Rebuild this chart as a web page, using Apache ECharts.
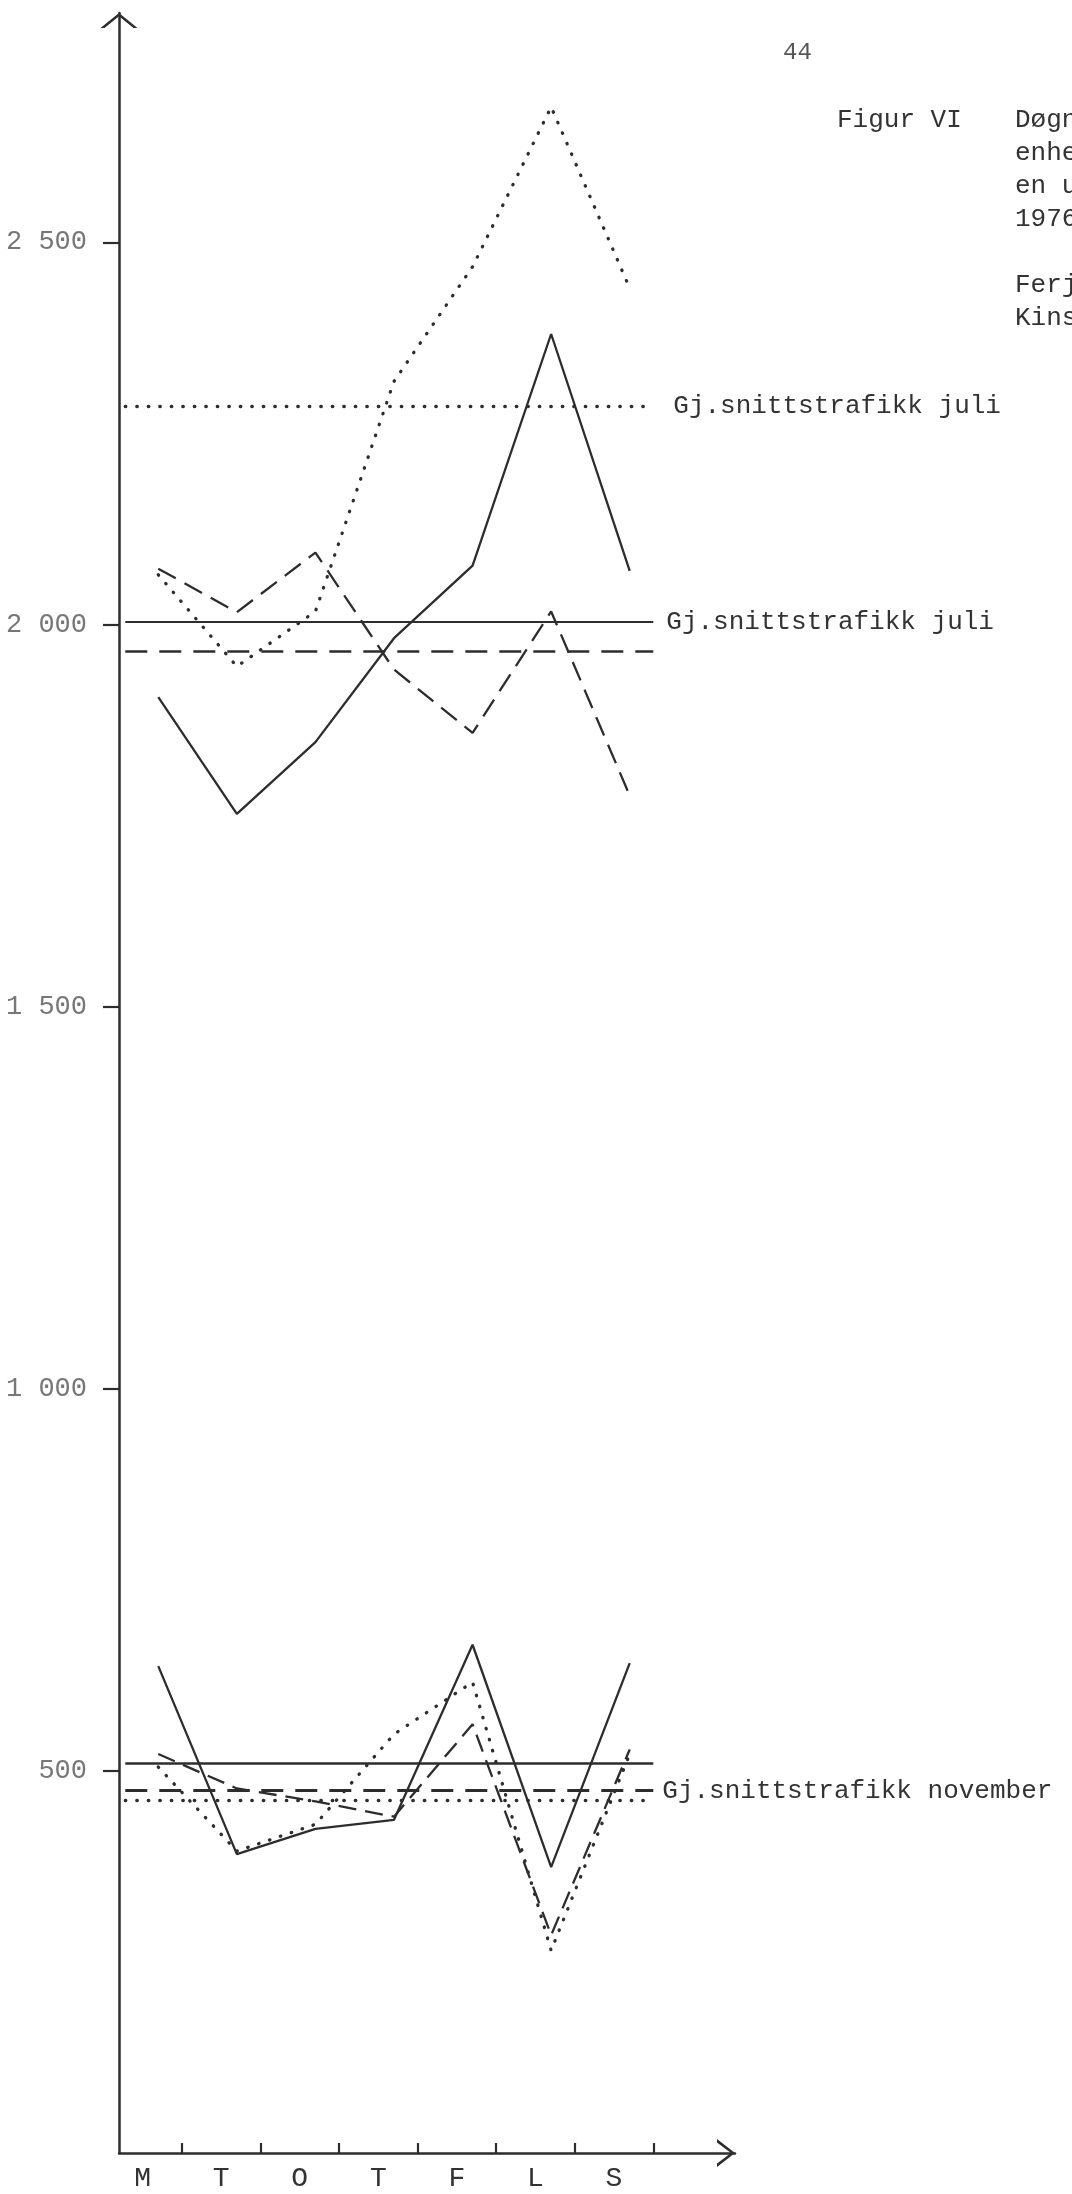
<!DOCTYPE html>
<html>
<head>
<meta charset="utf-8">
<script src="https://cdn.jsdelivr.net/npm/echarts@6/dist/echarts.min.js"></script>
<style>
  html, body { margin: 0; padding: 0; background: #ffffff; }
  #chart { width: 1072px; height: 2194px; }
</style>
</head>
<body>
<div id="chart"></div>
<script>
// ---- data ----
const days = ['M', 'T', 'O', 'T', 'F', 'L', 'S'];

const juliSolid  = [1905, 1752, 1846, 1982, 2077, 2380, 2070];
const juliDashed = [2073, 2016, 2094, 1941, 1858, 2017, 1776];
const juliDotted = [2065, 1945, 2017, 2318, 2468, 2677, 2440];

const novSolid  = [637, 391, 424, 436, 665, 374, 641];
const novDashed = [522, 477, 460, 440, 561, 285, 528];
const novDotted = [505, 395, 430, 548, 616, 265, 522];

const juliAvgSolid  = 2003;
const juliAvgDashed = 1965;
const juliAvgDotted = 2285;
const novAvgSolid  = 510;
const novAvgDashed = 474;
const novAvgDotted = 461;

const yTickValues = [500, 1000, 1500, 2000, 2500];
const yTickLabels = ['500', '1 000', '1 500', '2 000', '2 500'];

const avgLabelJuli = 'Gj.snittstrafikk juli';
const avgLabelNov  = 'Gj.snittstrafikk november';

const pageNumber = '44';
const figureLabel = 'Figur VI';
const captionLines = [
  'Døgntrafikk i bil-',
  'enheter for hver dag i',
  'en uke i juli og november',
  '1976.',
  '',
  'Ferjestrekningen',
  'Kinsarvik - Kvanndal'
];

// ---- styling ----
const INK = '#2d2d2d';
const MONO = '"Liberation Mono", "DejaVu Sans Mono", monospace';
const AVG_START = -0.42;
const AVG_END = 6.3;

const solidStyle  = { color: INK, width: 2.3, type: 'solid' };
const dashedStyle = { color: INK, width: 2.3, type: [20, 10] };
const dottedStyle = { color: INK, width: 3.3, type: [0.5, 11], cap: 'round' };

function avgLabel(text, dist) {
  if (!text) return { show: false };
  return {
    show: true, position: 'end', formatter: text, distance: dist,
    fontFamily: MONO, fontSize: 26, color: '#333', padding: [13, 0, 0, 0]
  };
}

function makeSeries(name, values, style, avg, avgStyle, labelText, labelDist) {
  return {
    name: name,
    type: 'line',
    data: values.map((v, i) => [i, v]),
    symbol: 'none',
    lineStyle: style,
    silent: true,
    markLine: {
      symbol: ['none', 'none'],
      silent: true,
      animation: false,
      lineStyle: avgStyle,
      label: avgLabel(labelText, labelDist),
      data: [[{ coord: [AVG_START, avg] }, { coord: [AVG_END, avg] }]]
    }
  };
}

const chevronX = 'path://M0,18 L14,0 L28,18 L24.5,18 L14,4 L3.5,18 Z';
const chevronY = 'path://M0,15 L18.5,0 L37,15 L33,15 L18.5,3.3 L4,15 Z';

const graphics = [
  { type: 'text', x: 783, y: 53, style: { text: pageNumber, font: '24px ' + MONO, fill: '#555', verticalAlign: 'middle' } },
  { type: 'text', x: 837, y: 120, style: { text: figureLabel, font: '26px ' + MONO, fill: '#333', verticalAlign: 'middle' } }
];
captionLines.forEach((t, i) => {
  graphics.push({ type: 'text', x: 1015, y: 120 + 33 * i, style: { text: t, font: '26px ' + MONO, fill: '#333', verticalAlign: 'middle' } });
});

const chart = echarts.init(document.getElementById('chart'), null, { renderer: 'canvas' });
chart.setOption({
  backgroundColor: '#ffffff',
  animation: false,
  grid: { left: 119, right: 337, top: 13, bottom: 41, containLabel: false },
  xAxis: {
    type: 'value',
    min: -0.5,
    max: 7.34,
    splitLine: { show: false },
    axisLine: {
      show: true,
      onZero: false,
      lineStyle: { color: INK, width: 2.5 },
      symbol: ['none', chevronX],
      symbolSize: [28, 18],
      symbolOffset: [0, -9]
    },
    axisTick: {
      show: true, inside: true, length: 10,
      lineStyle: { color: INK, width: 2.2 },
      customValues: days.map((d, i) => i + 0.3)
    },
    axisLabel: {
      show: true,
      customValues: days.map((d, i) => i - 0.2),
      formatter: (v) => days[Math.round(v + 0.2)],
      fontFamily: MONO, fontSize: 28, color: '#333', margin: 12
    }
  },
  yAxis: {
    type: 'value',
    min: 0,
    max: 2800,
    splitLine: { show: false },
    axisLine: {
      show: true,
      onZero: false,
      lineStyle: { color: INK, width: 2.5 },
      symbol: ['none', chevronY],
      symbolSize: [37, 15],
      symbolOffset: [0, -7.5]
    },
    axisTick: {
      show: true, inside: false, length: 16,
      lineStyle: { color: INK, width: 2.2 },
      customValues: yTickValues
    },
    axisLabel: {
      show: true,
      customValues: yTickValues,
      formatter: (v) => yTickLabels[yTickValues.indexOf(v)],
      fontFamily: MONO, fontSize: 27, color: '#777', margin: 32
    }
  },
  series: [
    makeSeries('juli solid', juliSolid, solidStyle, juliAvgSolid,
      { color: INK, width: 2.2, type: 'solid' }, avgLabelJuli, 13),
    makeSeries('juli dashed', juliDashed, dashedStyle, juliAvgDashed,
      { color: INK, width: 2.5, type: [22, 12] }, null),
    makeSeries('juli dotted', juliDotted, dottedStyle, juliAvgDotted,
      { color: INK, width: 3.3, type: [0.5, 11], cap: 'round' }, avgLabelJuli, 20),
    makeSeries('nov solid', novSolid, solidStyle, novAvgSolid,
      { color: INK, width: 2.5, type: 'solid' }, null),
    makeSeries('nov dashed', novDashed, { color: INK, width: 2.3, type: [18, 9] }, novAvgDashed,
      { color: INK, width: 2.8, type: [22, 12] }, avgLabelNov, 9),
    makeSeries('nov dotted', novDotted, dottedStyle, novAvgDotted,
      { color: INK, width: 3.3, type: [0.5, 11], cap: 'round' }, null)
  ],
  graphic: graphics
});
</script>
</body>
</html>
